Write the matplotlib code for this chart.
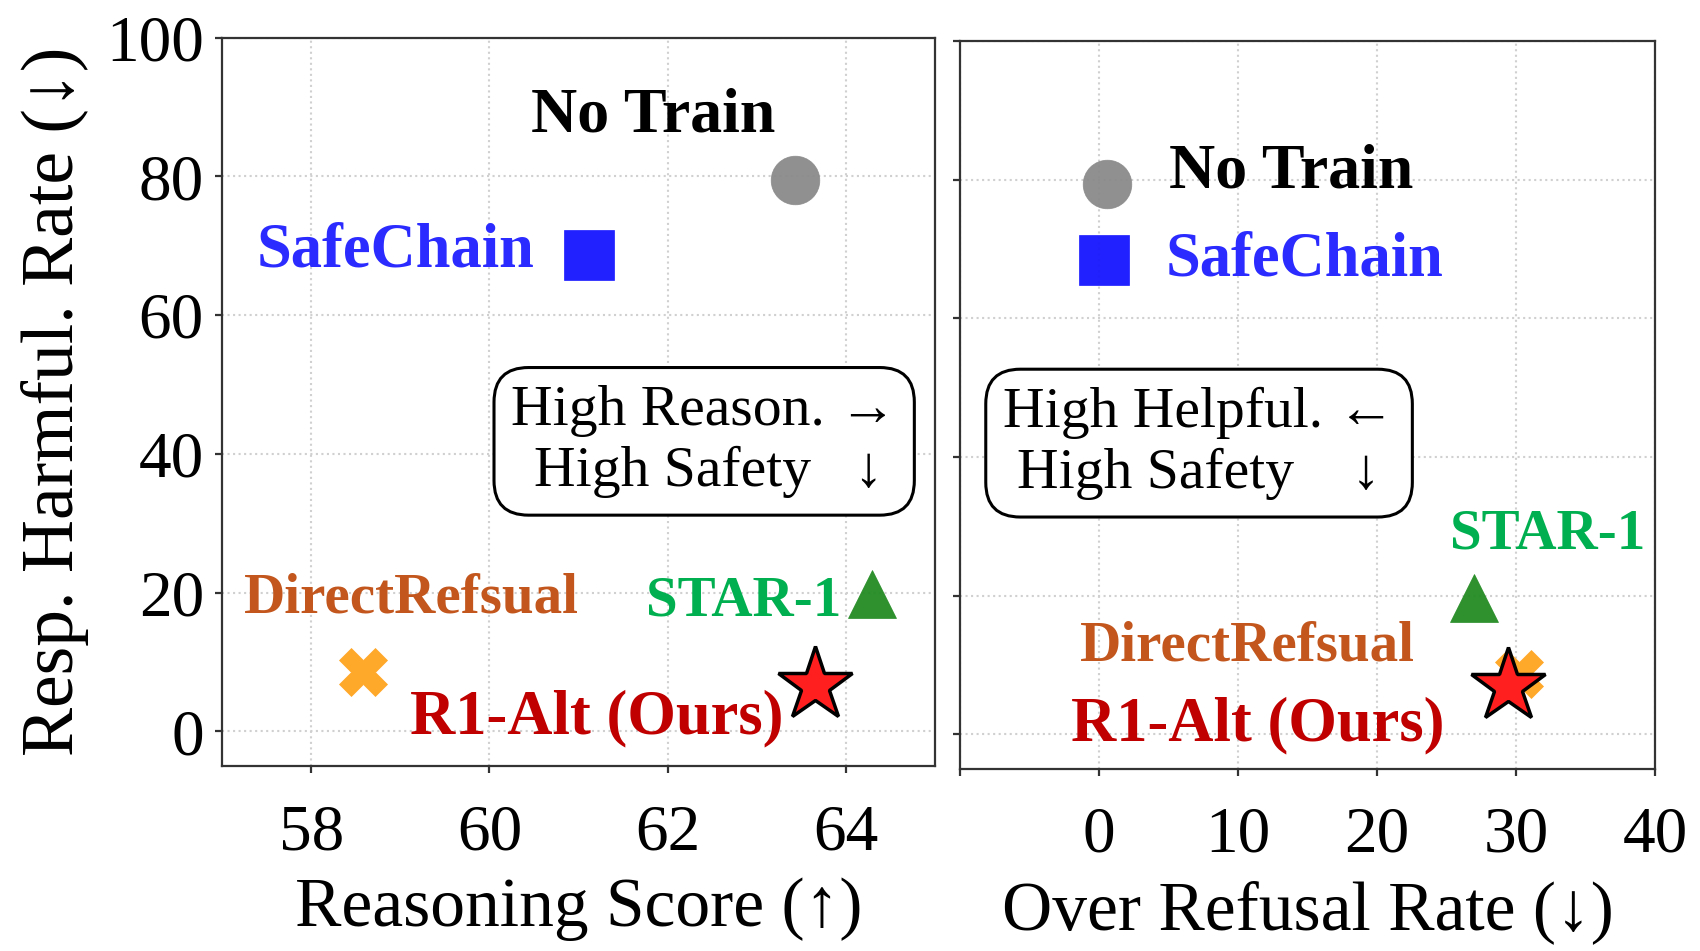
import matplotlib
matplotlib.use('Agg')
import matplotlib.pyplot as plt

plt.rcParams['font.family'] = ['Liberation Serif', 'DejaVu Serif']

# 数据：方法名、推理得分、过度拒绝率、有害率
methods = ['No Train', 'SafeChain', 'STAR-1', 'DirectRefsual', 'R1-Alt (Ours)']
reason_score = [63.43, 61.12, 64.29, 58.58, 63.65]
harm_left = [79.4, 68.6, 19.8, 8.5, 6.7]
over_refusal = [0.6, 0.35, 27.0, 30.2, 29.4]
harm_right = [79.4, 68.4, 19.7, 8.7, 7.0]

# 标签位置 (数据坐标)
label_pos_left = [(61.84, 88.6), (58.95, 69.2), (62.85, 18.7), (59.12, 19.1), (61.2, 1.9)]
label_pos_right = [(13.8, 81.0), (14.8, 68.4), (32.3, 28.8), (10.7, 12.7), (11.4, 1.3)]

marker_styles = ['o', 's', '^', 'X', '*']
marker_colors = ['#8a8a8a', '#1515ff', '#228b22', '#ffa51f', '#ff1f1f']
marker_sizes = [35, 36, 35, 35, 56]
text_colors = ['black', '#2b2bff', '#00b050', '#c2561c', '#c00000']
text_sizes = [46, 45, 41, 41, 45]

fig = plt.figure(figsize=(17, 9.51), dpi=100)
ax1 = fig.add_axes([0.1306, 0.1945, 0.4194, 0.766])
ax2 = fig.add_axes([0.5647, 0.1914, 0.4088, 0.7655])


def draw_panel(ax, xs, ys, label_pos):
    for i, m in enumerate(methods):
        if marker_styles[i] == '*':
            ax.plot(xs[i], ys[i], marker='*', ms=marker_sizes[i], color=marker_colors[i],
                    mec='black', mew=2.5, ls='none', zorder=5)
        else:
            ax.plot(xs[i], ys[i], marker=marker_styles[i], ms=marker_sizes[i],
                    color=marker_colors[i], mec=marker_colors[i], mew=0.5, alpha=0.95,
                    ls='none', zorder=4)
        tx, ty = label_pos[i]
        ax.text(tx, ty, m, color=text_colors[i], fontsize=text_sizes[i], fontweight='bold',
                ha='center', va='center', zorder=6)
    ax.grid(True, ls=':', color='#d0d0d0', lw=1.5)
    ax.set_axisbelow(True)
    for s in ax.spines.values():
        s.set_color('#333333')
        s.set_linewidth(1.6)
    ax.tick_params(direction='out', length=5, width=1.6, color='#333333')
    ax.tick_params(axis='x', labelsize=47, pad=22)
    ax.tick_params(axis='y', labelsize=47, pad=8)
    ax.set_ylim(-5, 100)
    ax.set_yticks([0, 20, 40, 60, 80, 100])


draw_panel(ax1, reason_score, harm_left, label_pos_left)
ax1.set_xlim(57, 65)
ax1.set_xticks([58, 60, 62, 64])
ax1.set_xlabel('Reasoning Score (↑)', fontsize=50, labelpad=10)
ax1.set_ylabel('Resp. Harmful. Rate (↓)', fontsize=53, labelpad=12)
ax1.text(62.41, 41.8, 'High Reason. →\nHigh Safety   ↓ ', fontsize=41.5, ha='center', va='center',
         multialignment='right', linespacing=1.22,
         bbox=dict(boxstyle='round,pad=0.3,rounding_size=0.6', fc='white', ec='black', lw=2.2),
         zorder=3)

draw_panel(ax2, over_refusal, harm_right, label_pos_right)
ax2.set_xlim(-10, 40)
ax2.set_xticks([-10, 0, 10, 20, 30, 40])
ax2.set_xticklabels(['', '0', '10', '20', '30', '40'])
ax2.set_yticklabels([])
ax2.set_xlabel('Over Refusal Rate (↓)', fontsize=50, labelpad=10)
ax2.text(7.2, 42.0, 'High Helpful. ←\nHigh Safety    ↓ ', fontsize=41.5, ha='center', va='center',
         multialignment='right', linespacing=1.22,
         bbox=dict(boxstyle='round,pad=0.3,rounding_size=0.6', fc='white', ec='black', lw=2.2),
         zorder=3)

fig.savefig('out.png', dpi=100)
